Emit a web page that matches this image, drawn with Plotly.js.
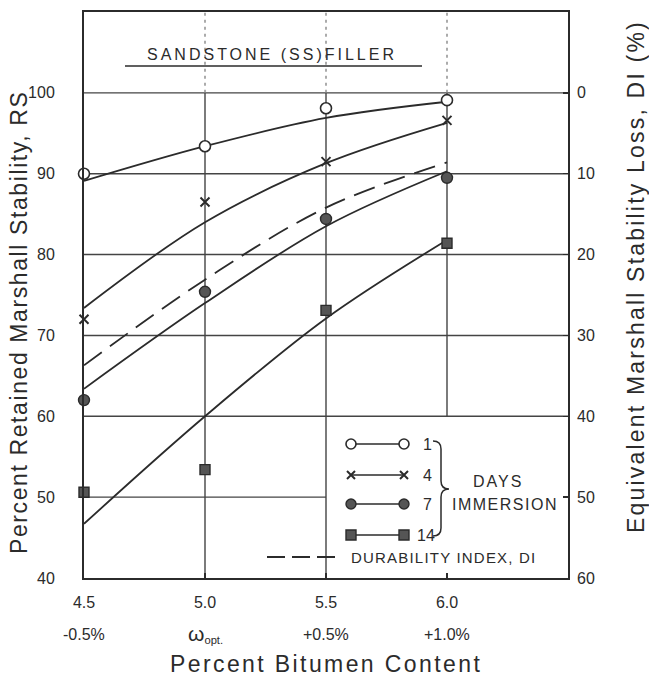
<!DOCTYPE html>
<html>
<head>
<meta charset="utf-8">
<script src="https://cdn.plot.ly/plotly-3.0.1.min.js"></script>
<style>
  html, body { margin: 0; padding: 0; background: #fff; }
  #chart { width: 649px; height: 679px; }
</style>
</head>
<body>
<div id="chart"></div>
<script>
// ---- data ----
const bitumen = [4.5, 5.0, 5.5, 6.0];
const bitumenLabels = ["4.5", "5.0", "5.5", "6.0"];
const deviationLabels = ["-0.5%", "<span style='font-size:21px'>ω</span><sub>opt.</sub>", "+0.5%", "+1.0%"];

// measured points (percent retained Marshall stability)
const rs1Day  = [90.0, 93.4, 98.1, 99.1];
const rs4Day  = [72.0, 86.5, 91.5, 96.6];
const rs7Day  = [62.0, 75.4, 84.4, 89.5];
const rs14Day = [50.6, 53.4, 73.1, 81.4];

// fitted curves
const fit1Day  = [89.1, 93.4, 96.9, 98.9];
const fit4Day  = [73.4, 84.0, 91.3, 96.3];
const fit7Day  = [63.4, 74.0, 83.5, 90.3];
const fit14Day = [46.7, 60.0, 72.1, 81.8];
const durabilityIndex = [66.3, 76.9, 85.8, 91.4];

const rsTicks = [40, 50, 60, 70, 80, 90, 100];
const lossTicks = [0, 10, 20, 30, 40, 50, 60];

// ---- styling ----
const INK = '#2b2b2b';
const GRID = '#444';
const FONT = 'Liberation Sans, Arial, sans-serif';
const W = 649, H = 679;
const M = {l: 84, r: 81, t: 12, b: 101};
const fx = p => (p - M.l) / (W - M.l - M.r);
const fy = p => (H - M.b - p) / (H - M.t - M.b);

function curve(y, dash) {
  return {x: bitumen, y: y, type: 'scatter', mode: 'lines', showlegend: false, hoverinfo: 'skip',
          line: {shape: 'spline', color: INK, width: 1.8, dash: dash || 'solid'}};
}
function pts(y, marker) {
  return {x: bitumen, y: y, type: 'scatter', mode: 'markers', showlegend: false, cliponaxis: false,
          marker: marker};
}

const traces = [
  curve(fit1Day), curve(fit4Day), curve(fit7Day), curve(fit14Day),
  curve(durabilityIndex, '22px,10px'),
  pts(rs1Day,  {symbol: 'circle', size: 11, color: '#fff', line: {color: INK, width: 1.6}}),
  pts(rs4Day,  {symbol: 'x-thin', size: 9, color: INK, line: {color: INK, width: 2}}),
  pts(rs7Day,  {symbol: 'circle', size: 11, color: '#555', line: {color: INK, width: 1.4}}),
  pts(rs14Day, {symbol: 'square', size: 10, color: '#555', line: {color: INK, width: 1.4}}),
  // same DI curve expressed as stability loss, on the right axis (invisible, keeps that axis alive)
  {x: bitumen, y: durabilityIndex.map(v => 100 - v), yaxis: 'y2', type: 'scatter', mode: 'lines',
   showlegend: false, hoverinfo: 'skip', line: {width: 0, color: 'rgba(0,0,0,0)'}}
];

// ---- grid drawn as shapes (legend area has no grid) ----
const shapes = [];
function hline(y, x0, x1) {
  shapes.push({type: 'line', xref: 'x', yref: 'y', x0: x0, x1: x1, y0: y, y1: y, layer: 'below',
               line: {color: GRID, width: 1.4}});
}
function vline(x, y0, y1, dash, color) {
  shapes.push({type: 'line', xref: 'x', yref: 'y', x0: x, x1: x, y0: y0, y1: y1, layer: 'below',
               line: {color: color || GRID, width: 1.4, dash: dash || 'solid'}});
}
hline(50, 4.5, 5.5);
[60, 70, 80, 90, 100].forEach(v => hline(v, 4.5, 6.5));
vline(5.0, 40, 100); vline(5.5, 40, 100); vline(6.0, 60, 100);
[5.0, 5.5, 6.0].forEach(v => vline(v, 100, 110, '3px,4px', '#888'));

// underline of the panel title
shapes.push({type: 'line', xref: 'paper', yref: 'paper', x0: fx(125), x1: fx(422), y0: fy(66), y1: fy(66),
             line: {color: INK, width: 1.5}});

// ---- hand-made legend ----
const rowsY = [444, 475, 504, 535];
const LX0 = 351, LX1 = 404;
rowsY.forEach(y => shapes.push({type: 'line', xref: 'paper', yref: 'paper', x0: fx(LX0), x1: fx(LX1),
  y0: fy(y), y1: fy(y), line: {color: INK, width: 1.6}}));
function pxShape(type, cx, cy, extra) {
  return Object.assign({type: type, xref: 'paper', yref: 'paper', xsizemode: 'pixel', ysizemode: 'pixel',
    xanchor: fx(cx), yanchor: fy(cy)}, extra);
}
[LX0, LX1].forEach(cx => {
  shapes.push(pxShape('circle', cx, rowsY[0], {x0: -5, x1: 5, y0: -5, y1: 5, fillcolor: '#fff', line: {color: INK, width: 1.6}}));
  shapes.push(pxShape('path', cx, rowsY[1], {path: 'M-4,-4L4,4M-4,4L4,-4', line: {color: INK, width: 2}}));
  shapes.push(pxShape('circle', cx, rowsY[2], {x0: -5, x1: 5, y0: -5, y1: 5, fillcolor: '#555', line: {color: INK, width: 1.4}}));
  shapes.push(pxShape('rect', cx, rowsY[3], {x0: -5, x1: 5, y0: -5, y1: 5, fillcolor: '#555', line: {color: INK, width: 1.4}}));
});
// DI legend dash
shapes.push({type: 'line', xref: 'paper', yref: 'paper', x0: fx(267), x1: fx(341), y0: fy(557), y1: fy(557),
             line: {color: INK, width: 1.8, dash: '18px,7px'}});
// curly brace
const bp = [[433,441],[441,441],[441,449],[441,481],[441,489],[449,489],[441,489],[441,497],[441,528],[441,536],[433,536]];
const P = i => fx(bp[i][0]) + ',' + fy(bp[i][1]);
shapes.push({type: 'path', xref: 'paper', yref: 'paper',
  path: 'M' + P(0) + ' Q' + P(1) + ' ' + P(2) + ' L' + P(3) + ' Q' + P(4) + ' ' + P(5) +
        ' Q' + P(6) + ' ' + P(7) + ' L' + P(8) + ' Q' + P(9) + ' ' + P(10),
  line: {color: INK, width: 1.5}});

const sp = (t, s) => "<span style='letter-spacing:" + s + "px'>" + t + "</span>";
const annotations = [];
function ann(text, x, y, opts) {
  annotations.push(Object.assign({text: text, xref: 'paper', yref: 'paper', x: fx(x), y: fy(y),
    showarrow: false, xanchor: 'center', yanchor: 'middle', font: {family: FONT, size: 16, color: INK}}, opts));
}
ann('1', 421, rowsY[0], {xanchor: 'left'});
ann('4', 421, rowsY[1], {xanchor: 'left'});
ann('7', 421, rowsY[2], {xanchor: 'left'});
ann('14', 415, rowsY[3], {xanchor: 'left'});
ann(sp('DAYS', 2), 498, 481);
ann(sp('IMMERSION', 1.5), 505, 504);
ann(sp('DURABILITY INDEX, DI', 1.2), 349, 557, {xanchor: 'left', font: {family: FONT, size: 15, color: INK}});
ann(sp('SANDSTONE (SS)FILLER', 3), 272, 55, {font: {family: FONT, size: 16, color: INK}});

// second row of x labels
bitumen.forEach((b, i) => annotations.push({text: deviationLabels[i], xref: 'x', yref: 'paper', x: b, y: fy(634),
  showarrow: false, xanchor: 'center', yanchor: 'middle', font: {family: FONT, size: 16, color: INK}}));

// axis titles
ann(sp('Percent Bitumen Content', 2.4), 326, 664, {font: {family: FONT, size: 23, color: INK}});
ann(sp('Percent Retained Marshall Stability, RS', 1.6), 19, 323, {textangle: -90, font: {family: FONT, size: 23, color: INK}});
ann(sp('Equivalent Marshall Stability Loss, DI (%)', 2.2), 636, 277, {textangle: -90, font: {family: FONT, size: 23, color: INK}});

const layout = {
  width: W, height: H,
  margin: M,
  paper_bgcolor: '#fff', plot_bgcolor: '#fff',
  showlegend: false,
  font: {family: FONT, color: INK},
  xaxis: {range: [4.5, 6.5], tickvals: bitumen, ticktext: bitumenLabels, ticks: 'inside', ticklen: 5,
          tickcolor: INK, tickwidth: 1.4, showgrid: false, zeroline: false, showline: true, mirror: true,
          linecolor: INK, linewidth: 2, tickfont: {size: 16, family: FONT, color: INK}, ticklabelstandoff: 9,
          fixedrange: true},
  yaxis: {range: [40, 110], tickvals: rsTicks, ticks: '', showgrid: false, zeroline: false, showline: true,
          mirror: true, linecolor: INK, linewidth: 2, tickfont: {size: 16, family: FONT, color: INK},
          ticklabelstandoff: 24, fixedrange: true},
  yaxis2: {overlaying: 'y', side: 'right', range: [60, -10], tickvals: lossTicks, ticks: 'inside', ticklen: 5,
           tickcolor: INK, tickwidth: 1.4, showgrid: false, zeroline: false, showline: false,
           tickfont: {size: 16, family: FONT, color: INK}, ticklabelstandoff: 8, fixedrange: true},
  shapes: shapes,
  annotations: annotations
};

Plotly.newPlot('chart', traces, layout, {displayModeBar: false, staticPlot: true});
</script>
</body>
</html>
